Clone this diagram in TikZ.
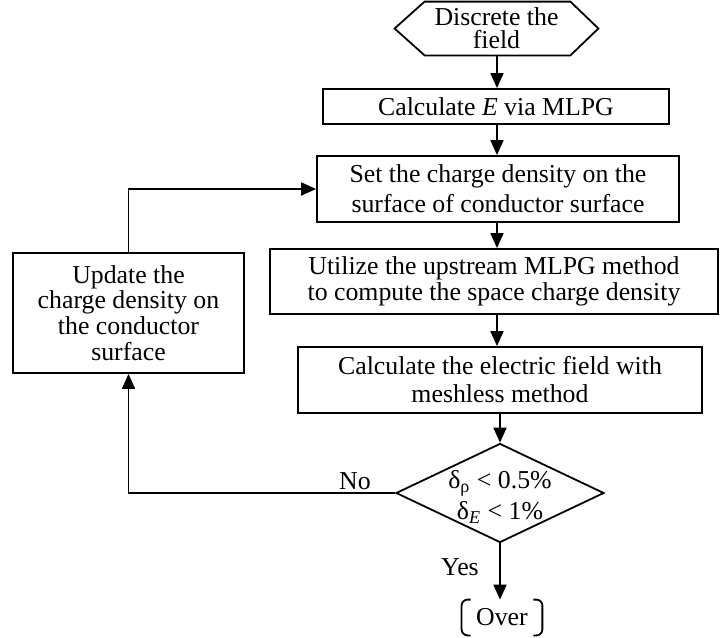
\documentclass[tikz,border=0pt]{standalone}
\usepackage{fontspec}
\setmainfont{Liberation Serif}
\usetikzlibrary{arrows.meta,shapes.geometric}
\begin{document}
\begin{tikzpicture}[x=0.5pt,y=-0.5pt,
  font=\fontsize{12.9}{15}\selectfont,
  ln/.style={line width=0.9pt},
  box/.style={draw, ln, inner sep=0pt, align=center},
  arr/.style={line width=0.9pt, -{Triangle[width=6.5pt,length=7.5pt]}}]
\useasboundingbox (0,0) rectangle (720,638);
% nodes
\node[inner sep=0pt, minimum width=101.5pt, minimum height=26.5pt, align=center,
      font=\fontsize{12.9}{11.6}\selectfont] (hex) at (496.5,28.5) {Discrete the\\field};
\draw[ln] (hex.west) -- ([xshift=15pt]hex.north west) -- ([xshift=-14pt]hex.north east)
  -- (hex.east) -- ([xshift=-14pt]hex.south east) -- ([xshift=15pt]hex.south west) -- cycle;
\node[box, minimum width=173pt, minimum height=17.5pt] (b1) at (496,106.5) {Calculate \textit{E} via MLPG};
\node[box, minimum width=181pt, minimum height=33pt] (b2) at (498,189) {Set the charge density on the\\surface of conductor surface};
\node[box, minimum width=224pt, minimum height=32.5pt, font=\fontsize{12.9}{13.3}\selectfont] (b3) at (494,281.5) {Utilize the upstream MLPG method\\to compute the space charge density};
\node[box, minimum width=202pt, minimum height=33pt, font=\fontsize{12.9}{14}\selectfont] (b4) at (500,380) {Calculate the electric field with\\meshless method};
\node[box, minimum width=115.5pt, minimum height=60pt, font=\fontsize{12.9}{12.9}\selectfont] (upd) at (128.5,313) {Update the\\charge density on\\the conductor\\surface};
\node[shape=diamond, draw, ln, minimum width=104pt, minimum height=49.5pt, inner sep=0pt] (dia) at (500,493) {};
\node[align=center, inner sep=0pt, font=\fontsize{12.9}{15.5}\selectfont] (dtext) at (500,497) {δ\textsubscript{ρ} < 0.5\%\\δ\textsubscript{\textit{E}} < 1\%};
\node[inner sep=0pt, minimum width=40pt, minimum height=17.5pt] (over) at (502,617.5) {Over};
\draw[ln, rounded corners=3pt] ([xshift=4.5pt]over.north west) -- (over.north west) -- (over.south west) -- ([xshift=4.5pt]over.south west);
\draw[ln, rounded corners=3pt] ([xshift=-4.5pt]over.north east) -- (over.north east) -- (over.south east) -- ([xshift=-4.5pt]over.south east);
\node[inner sep=0pt] (no) at (355,481) {No};
\node[inner sep=0pt] (yes) at (460,567) {Yes};
% connectors
\coordinate (sp) at (497,0);
\draw[arr] (hex.south -| sp) -- (b1.north -| sp);
\draw[arr] (b1.south -| sp) -- (b2.north -| sp);
\draw[arr] (b2.south -| sp) -- (b3.north -| sp);
\draw[arr] (b3.south -| sp) -- (b4.north -| sp);
\draw[arr] (b4.south -| dia.north) -- (dia.north);
\draw[arr] (dia.south) -- (dia.south |- over.north);
\draw[arr] (dia.west) -| (upd.south);
\draw[arr] (upd.north) |- (b2.west);
\end{tikzpicture}
\end{document}
